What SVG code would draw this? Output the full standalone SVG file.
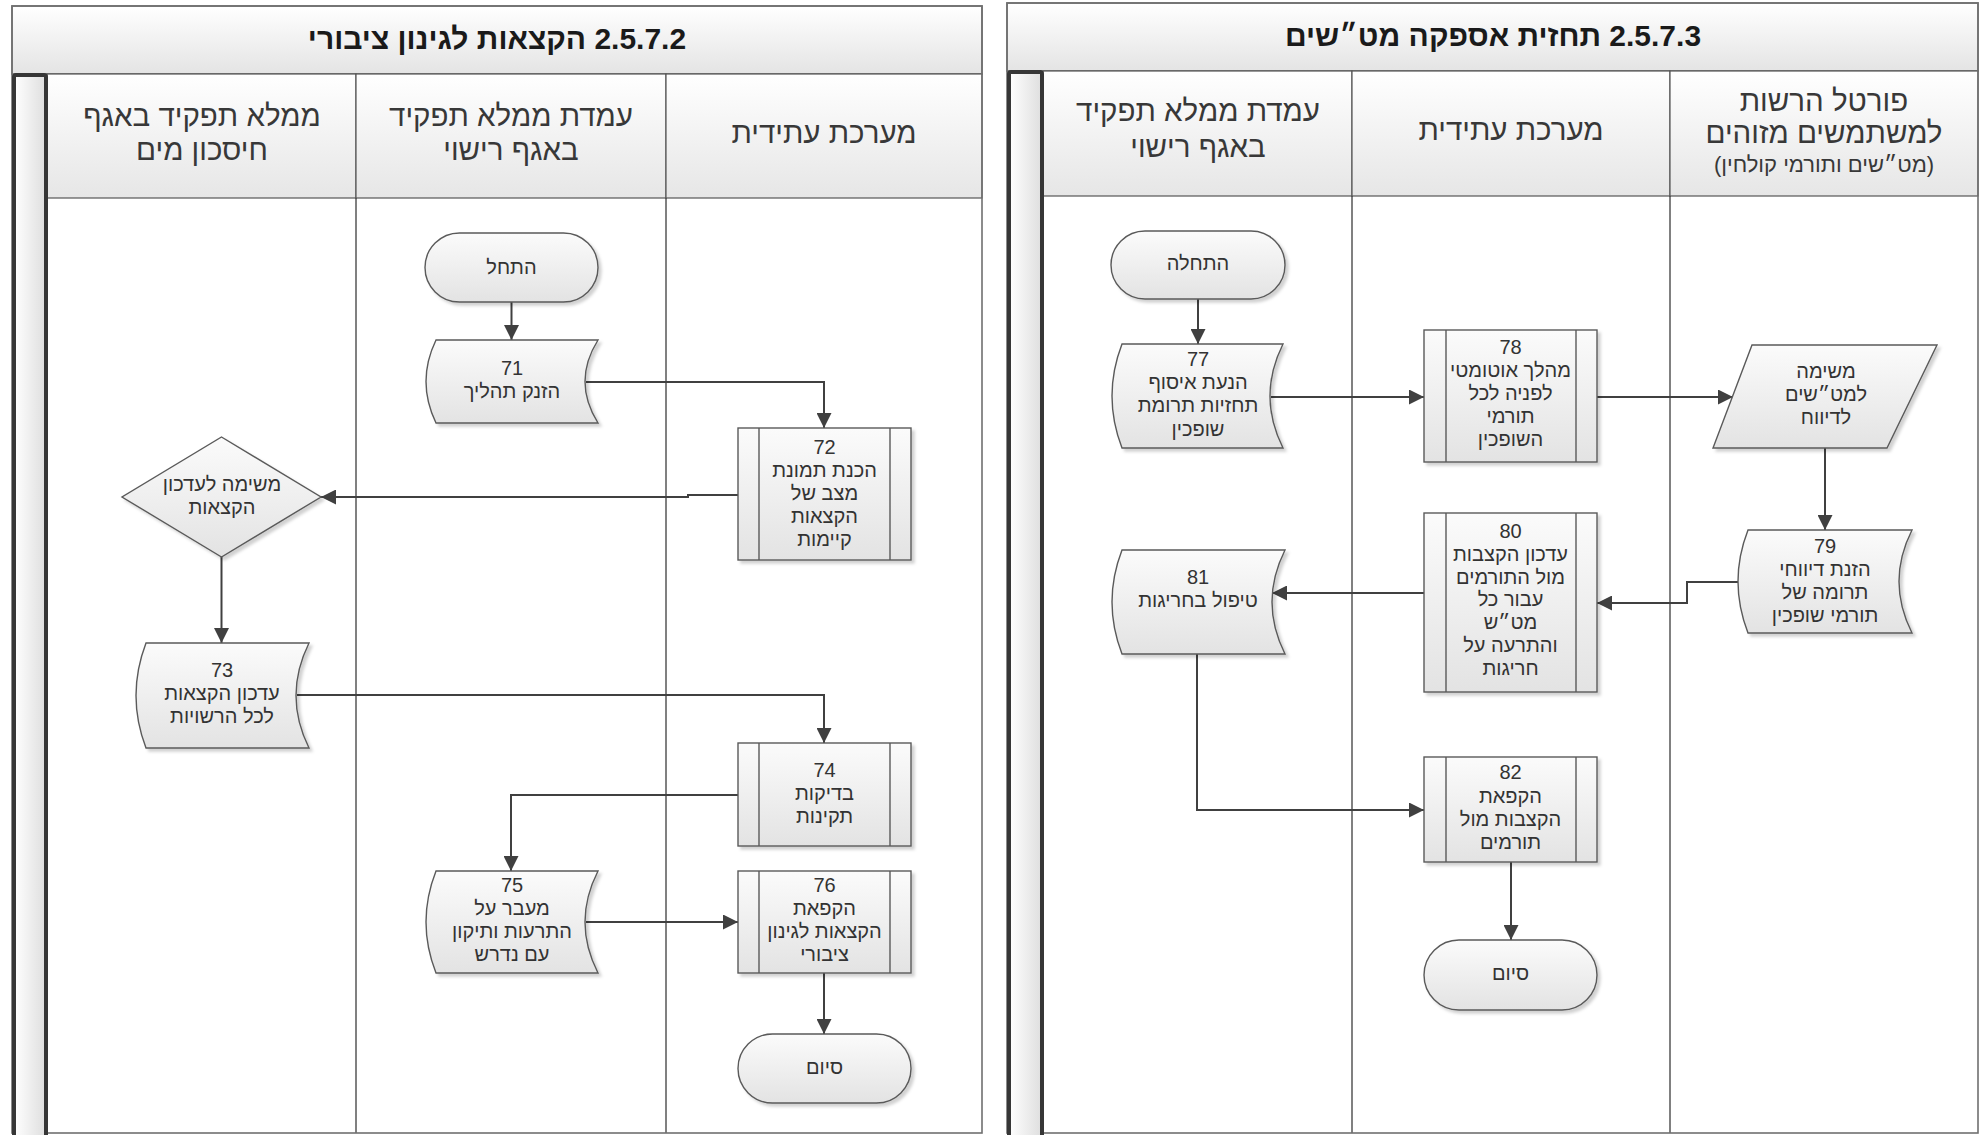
<svg xmlns="http://www.w3.org/2000/svg" width="1982" height="1135" viewBox="0 0 1982 1135">
<defs>
<linearGradient id="gTitle" x1="0" y1="0" x2="0" y2="1"><stop offset="0" stop-color="#ffffff"/><stop offset="1" stop-color="#e4e4e4"/></linearGradient>
<linearGradient id="gHead" x1="0" y1="0" x2="0" y2="1"><stop offset="0" stop-color="#ffffff"/><stop offset="1" stop-color="#e6e6e6"/></linearGradient>
<linearGradient id="gNode" x1="0" y1="0" x2="0" y2="1"><stop offset="0" stop-color="#fbfbfb"/><stop offset="1" stop-color="#e3e3e3"/></linearGradient>
<linearGradient id="gBar" x1="0" y1="0" x2="1" y2="0"><stop offset="0" stop-color="#ffffff"/><stop offset="1" stop-color="#dedede"/></linearGradient>
<filter id="sh" x="-10%" y="-10%" width="130%" height="130%"><feDropShadow dx="3" dy="3" stdDeviation="1.6" flood-color="#000" flood-opacity="0.18"/></filter>
<marker id="ar" viewBox="0 0 15 15" refX="15" refY="7.5" markerWidth="15" markerHeight="15" markerUnits="userSpaceOnUse" orient="auto"><path d="M0,0 L15,7.5 L0,15 z" fill="#404040"/></marker>
</defs>
<style>
.frame{fill:none;stroke:#707070;stroke-width:1.6}
.title{fill:url(#gTitle);stroke:#707070;stroke-width:1.6}
.head{fill:url(#gHead);stroke:#555;stroke-width:1.2}
.lane{stroke:#3c3c3c;stroke-width:1.3;fill:none}
.bar{fill:url(#gBar);stroke:#363636;stroke-width:4}
.n{fill:url(#gNode);stroke:#5a5a5a;stroke-width:1.4;filter:url(#sh)}
.il{stroke:#5a5a5a;stroke-width:1.4;fill:none}
.c{fill:none;stroke:#404040;stroke-width:2}
.ca{fill:none;stroke:#404040;stroke-width:2;marker-end:url(#ar)}
text{font-family:"Liberation Sans",Arial,"DejaVu Sans",sans-serif;direction:rtl;text-anchor:middle}
.t{font-size:20px;fill:#333333}
.h{font-size:29.5px;fill:#383838}
.hs{font-size:22px;fill:#383838}
.tt{font-size:30px;font-weight:bold;fill:#1a1a1a}
</style>
<rect width="1982" height="1135" fill="#ffffff"/>

<g id="panel-left">
<rect class="title" x="12" y="6" width="970" height="68"/>
<text class="tt" x="497" y="49">2.5.7.2 הקצאות לגינון ציבורי</text>
<rect class="head" x="47" y="74" width="309" height="124"/>
<rect class="head" x="356" y="74" width="310" height="124"/>
<rect class="head" x="666" y="74" width="316" height="124"/>
<line class="lane" x1="356" y1="198" x2="356" y2="1133"/>
<line class="lane" x1="666" y1="198" x2="666" y2="1133"/>
<rect class="frame" x="12" y="6" width="970" height="1127"/>
<rect class="bar" x="14" y="75" width="32" height="1062" rx="2"/>
<text class="h" x="202" y="126">ממלא תפקיד באגף</text>
<text class="h" x="202" y="160">חיסכון מים</text>
<text class="h" x="511" y="126">עמדת ממלא תפקיד</text>
<text class="h" x="511" y="160">באגף רישוי</text>
<text class="h" x="824" y="143">מערכת עתידית</text>
</g>

<g id="panel-right">
<rect class="title" x="1007" y="3" width="971" height="68"/>
<text class="tt" x="1493" y="46">2.5.7.3 תחזית אספקה מט״שים</text>
<rect class="head" x="1043" y="71" width="309" height="125"/>
<rect class="head" x="1352" y="71" width="318" height="125"/>
<rect class="head" x="1670" y="71" width="308" height="125"/>
<line class="lane" x1="1352" y1="196" x2="1352" y2="1133"/>
<line class="lane" x1="1670" y1="196" x2="1670" y2="1133"/>
<rect class="frame" x="1007" y="3" width="971" height="1130"/>
<rect class="bar" x="1009" y="72" width="33" height="1065" rx="2"/>
<text class="h" x="1198" y="121">עמדת ממלא תפקיד</text>
<text class="h" x="1198" y="157">באגף רישוי</text>
<text class="h" x="1511" y="140">מערכת עתידית</text>
<text class="h" x="1824" y="111">פורטל הרשות</text>
<text class="h" x="1824" y="143">למשתמשים מזוהים</text>
<text class="hs" x="1824" y="172">(מט״שים ותורמי קולחין)</text>
</g>

<g id="connectors">
<path class="ca" d="M511.5,302 V340"/>
<path class="ca" d="M586,382 H824 V428"/>
<path class="ca" d="M738,495 H688 V497 H321"/>
<path class="ca" d="M221.5,557 V643"/>
<path class="ca" d="M297,695 H824 V743"/>
<path class="ca" d="M738,795 H511 V871"/>
<path class="ca" d="M586,922 H738"/>
<path class="ca" d="M824,973 V1034"/>
<path class="ca" d="M1198,299 V344"/>
<path class="ca" d="M1271,397 H1424"/>
<path class="ca" d="M1597,397 H1733"/>
<path class="ca" d="M1825,448 V530"/>
<path class="ca" d="M1738,582 H1687 V603 H1597"/>
<path class="ca" d="M1424,593 H1272"/>
<path class="ca" d="M1197,654 V810 H1424"/>
<path class="ca" d="M1511,862 V940"/>
</g>

<g id="start-left">
<rect class="n" x="425" y="233" width="173" height="69" rx="34.5"/>
<text class="t" x="511.5" y="274">התחל</text>
</g>
<g id="n71">
<path class="n" d="M436,340 L598,340 Q572,381.5 598,423 L436,423 Q416,381.5 436,340 Z"/>
<text class="t" x="512" y="375">71</text>
<text class="t" x="512" y="398">הזנק תהליך</text>
</g>
<g id="n72">
<rect class="n" x="738" y="428" width="173" height="132"/>
<path class="il" d="M759,428 V560 M890,428 V560"/>
<text class="t" x="824.5" y="454">72</text>
<text class="t" x="824.5" y="477">הכנת תמונת</text>
<text class="t" x="824.5" y="500">מצב של</text>
<text class="t" x="824.5" y="523">הקצאות</text>
<text class="t" x="824.5" y="546">קיימות</text>
</g>
<g id="d-task">
<path class="n" d="M221.5,437 L321,497 L221.5,557 L122,497 Z"/>
<text class="t" x="222" y="491">משימה לעדכון</text>
<text class="t" x="222" y="514">הקצאות</text>
</g>
<g id="n73">
<path class="n" d="M146,643 L309,643 Q283,695.5 309,748 L146,748 Q126,695.5 146,643 Z"/>
<text class="t" x="222" y="677">73</text>
<text class="t" x="222" y="700">עדכון הקצאות</text>
<text class="t" x="222" y="723">לכל הרשויות</text>
</g>
<g id="n74">
<rect class="n" x="738" y="743" width="173" height="103"/>
<path class="il" d="M759,743 V846 M890,743 V846"/>
<text class="t" x="824.5" y="777">74</text>
<text class="t" x="824.5" y="800">בדיקות</text>
<text class="t" x="824.5" y="823">תקינות</text>
</g>
<g id="n75">
<path class="n" d="M436,871 L598,871 Q572,922 598,973 L436,973 Q416,922 436,871 Z"/>
<text class="t" x="512" y="892">75</text>
<text class="t" x="512" y="915">מעבר על</text>
<text class="t" x="512" y="938">התרעות ותיקון</text>
<text class="t" x="512" y="961">עם נדרש</text>
</g>
<g id="n76">
<rect class="n" x="738" y="871" width="173" height="102"/>
<path class="il" d="M759,871 V973 M890,871 V973"/>
<text class="t" x="824.5" y="892">76</text>
<text class="t" x="824.5" y="915">הקפאת</text>
<text class="t" x="824.5" y="938">הקצאות לגינון</text>
<text class="t" x="824.5" y="961">ציבורי</text>
</g>
<g id="end-left">
<rect class="n" x="738" y="1034" width="173" height="69" rx="34.5"/>
<text class="t" x="824.5" y="1074">סיום</text>
</g>

<g id="start-right">
<rect class="n" x="1111" y="231" width="174" height="68" rx="34"/>
<text class="t" x="1198" y="270">התחלה</text>
</g>
<g id="n77">
<path class="n" d="M1122,344 L1283,344 Q1257,396 1283,448 L1122,448 Q1102,396 1122,344 Z"/>
<text class="t" x="1198" y="366">77</text>
<text class="t" x="1198" y="389">הנעת איסוף</text>
<text class="t" x="1198" y="412">תחזיות תרומת</text>
<text class="t" x="1198" y="436">שופכין</text>
</g>
<g id="n78">
<rect class="n" x="1424" y="330" width="173" height="132"/>
<path class="il" d="M1446,330 V462 M1576,330 V462"/>
<text class="t" x="1510.5" y="354">78</text>
<text class="t" x="1510.5" y="377">מהלך אוטומטי</text>
<text class="t" x="1510.5" y="400">לפניה לכל</text>
<text class="t" x="1510.5" y="423">תורמי</text>
<text class="t" x="1510.5" y="446">השופכין</text>
</g>
<g id="p-task">
<path class="n" d="M1752,345 L1937,345 L1887,448 L1713,448 Z"/>
<text class="t" x="1826" y="378">משימה</text>
<text class="t" x="1826" y="401">למט״שים</text>
<text class="t" x="1826" y="424">לדיווח</text>
</g>
<g id="n79">
<path class="n" d="M1748,530 L1912,530 Q1886,581.5 1912,633 L1748,633 Q1728,581.5 1748,530 Z"/>
<text class="t" x="1825" y="553">79</text>
<text class="t" x="1825" y="576">הזנת דיווחי</text>
<text class="t" x="1825" y="599">תרומה של</text>
<text class="t" x="1825" y="622">תורמי שופכין</text>
</g>
<g id="n80">
<rect class="n" x="1424" y="513" width="173" height="179"/>
<path class="il" d="M1446,513 V692 M1576,513 V692"/>
<text class="t" x="1510.5" y="538">80</text>
<text class="t" x="1510.5" y="561">עדכון הקצבות</text>
<text class="t" x="1510.5" y="584">מול התורמים</text>
<text class="t" x="1510.5" y="606">עבור כל</text>
<text class="t" x="1510.5" y="629">מט״ש</text>
<text class="t" x="1510.5" y="652">והתרעה על</text>
<text class="t" x="1510.5" y="675">חריגות</text>
</g>
<g id="n81">
<path class="n" d="M1122,550 L1285,550 Q1259,602 1285,654 L1122,654 Q1102,602 1122,550 Z"/>
<text class="t" x="1198" y="584">81</text>
<text class="t" x="1198" y="607">טיפול בחריגות</text>
</g>
<g id="n82">
<rect class="n" x="1424" y="757" width="173" height="105"/>
<path class="il" d="M1446,757 V862 M1576,757 V862"/>
<text class="t" x="1510.5" y="779">82</text>
<text class="t" x="1510.5" y="803">הקפאת</text>
<text class="t" x="1510.5" y="826">הקצבות מול</text>
<text class="t" x="1510.5" y="849">תורמים</text>
</g>
<g id="end-right">
<rect class="n" x="1424" y="940" width="173" height="70" rx="35"/>
<text class="t" x="1510.5" y="980">סיום</text>
</g>
</svg>
